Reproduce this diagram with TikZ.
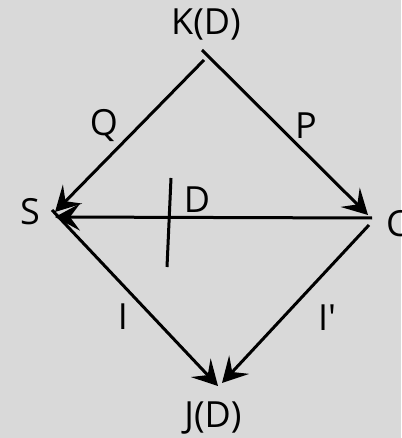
\documentclass[tikz,border=0pt]{standalone}
\usepackage{fontspec}
\setmainfont{Open Sans}
\newfontfamily\plainfont{Open Sans}
\usetikzlibrary{arrows.meta}
\definecolor{bg}{HTML}{D9D9D9}
\begin{document}
\begin{tikzpicture}[x=1bp,y=-1bp,
  edge/.style={line width=3bp,-{Stealth[length=25bp,width=27bp,inset=10bp]}},
  lbl/.style={inner sep=0pt,font=\plainfont\fontsize{36bp}{40bp}\selectfont}]
\fill[bg] (0,0) rectangle (401,438);
\useasboundingbox (0,0) rectangle (401,438);
% endpoints
\coordinate (kS) at (204,60);
\coordinate (kC) at (202,50);
\coordinate (sK) at (55,212);
\coordinate (sC) at (55,217);
\coordinate (sJ) at (52,210);
\coordinate (cK) at (368,215);
\coordinate (cS) at (372,218);
\coordinate (cJ) at (369,225);
\coordinate (jS) at (218,386);
\coordinate (jC) at (222,383);
\coordinate (t1) at (171,178);
\coordinate (t2) at (167,267);
% labels
\node[lbl] (K) at (206,25) {K(D)};
\node[lbl] (J) at (213,418) {J(D)};
\node[lbl] (S) at (30,212) {S};
\node[lbl,anchor=west] (C) at (386,224) {C};
\node[lbl] (Q) at (104,126) {Q};
\node[lbl] (P) at (306,126) {P};
\node[lbl] (D) at (197,200) {D};
\node[lbl] (I) at (123,317) {I};
\node[lbl] (Ip) at (327,318) {I'};
% edges
\draw[edge] (kS) -- (sK);
\draw[edge] (kC) -- (cK);
\draw[edge] (cS) -- (sC);
\draw[edge] (sJ) -- (jS);
\draw[edge] (cJ) -- (jC);
\draw[line width=3bp] (t1) -- (t2);
\end{tikzpicture}
\end{document}
